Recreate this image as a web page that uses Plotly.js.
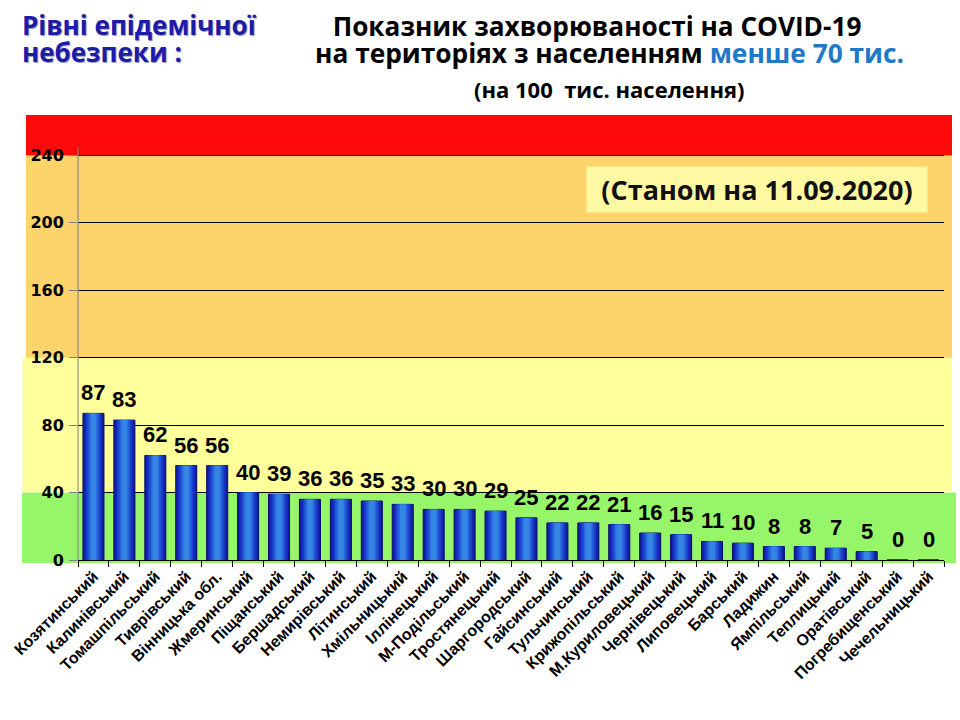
<!DOCTYPE html>
<html>
<head>
<meta charset="utf-8">
<script src="https://cdn.plot.ly/plotly-3.0.1.min.js"></script>
<style>html,body{margin:0;padding:0;background:#fff;}#chart{width:960px;height:720px;}</style>
</head>
<body>
<div id="chart"></div>
<script>
// ---- data ----
const districts = ["Козятинський","Калинівський","Томашпільський","Тиврівський","Вінницька обл.","Жмеринський","Піщанський","Бершадський","Немирівський","Літинський","Хмільницький","Іллінецький","М-Подільський","Тростянецький","Шаргородський","Гайсинський","Тульчинський","Крижопільський","М.Куриловецький","Чернівецький","Липовецький","Барський","Ладижин","Ямпільський","Теплицький","Оратівський","Погребищенський","Чечельницький"];
const incidence = [87,83,62,56,56,40,39,36,36,35,33,30,30,29,25,22,22,21,16,15,11,10,8,8,7,5,0,0];
const yTicks = [0,40,80,120,160,200,240];
const levelBounds = [0,40,120,240];      // epidemic danger level thresholds
const levelColors = ["#97f56a","#ffff9c","#fdd36c","#ff0a0a"];
const yMax = 264;

// ---- bar layers (simulated gradient) ----
const layerWidths = [0.68,0.58,0.48,0.38,0.28,0.18];
const layerColors = ["#0f1c9e","#1428b8","#1a3cc9","#2152d6","#2a6ade","#3585e4"];
const traces = layerWidths.map((w,i)=>({
  type:"bar", x:districts, y:incidence, width:w,
  marker:{color:layerColors[i], line:{color: i===0 ? "#0a0f66" : layerColors[i], width: i===0 ? 1 : 0}},
  hoverinfo:"skip", showlegend:false
}));

// ---- bands ----
const L = 78, W = 866, B = 560, H = 445;
const px = v => (v - L) / W;
const py = v => (B - v) / H;
const bandX = [[22,956],[22.5,952],[26,952],[26,952]];
const shapes = levelBounds.map((lv,i)=>({
  type:"rect", xref:"paper", yref:"paper", layer:"below",
  x0: px(bandX[i][0]), x1: px(bandX[i][1]),
  y0: i===0 ? -3/H : lv / yMax,
  y1: i < levelBounds.length-1 ? levelBounds[i+1] / yMax : 1,
  fillcolor: levelColors[i], line:{width:0}
}));
// y axis line
shapes.push({type:"line", xref:"paper", yref:"paper", layer:"above",
  x0:0, x1:0, y0:0, y1:py(147), line:{color:"#808080", width:1}});

// ---- value labels ----
const annotations = districts.map((d,i)=>({
  x:d, y:incidence[i], xref:"x", yref:"y", text:String(incidence[i]),
  showarrow:false, yanchor:"bottom", yshift:6,
  font:{family:"Liberation Sans, Arial, sans-serif", size:22, color:"#000", weight:"bold"}
}));
const TF = "Open Sans, Noto Sans, sans-serif";
annotations.push({
  xref:"paper", yref:"paper", x:px(757), y:py(189.5), xanchor:"center", yanchor:"middle",
  text:"<b>(Станом на 11.09.2020)</b>", showarrow:false, bgcolor:"#fdf8a2",
  width:336, height:41, borderpad:2,
  font:{family:TF, size:27, color:"#111"}
});
const leftLines = ["Рівні епідемічної","небезпеки :"];
const leftCenters = [25, 52];
leftLines.forEach((t,i)=>annotations.push({
  xref:"paper", yref:"paper", x:px(20), y:py(leftCenters[i]), xanchor:"left", yanchor:"middle",
  text:"<b>"+t+"</b>", showarrow:false,
  font:{family:TF, size:26, color:"#1c1ca6", shadow:"1px 1px 1px #9a9ab0"}
}));
annotations.push({
  xref:"paper", yref:"paper", x:px(609), y:py(53), xanchor:"center", yanchor:"middle",
  text:"<b>на територіях з населенням <span style='color:#1f78c8'>менше 70 тис.</span></b>", showarrow:false,
  font:{family:TF, size:26.3, color:"#000"}
});
annotations.push({
  xref:"paper", yref:"paper", x:px(609), y:py(89), xanchor:"center", yanchor:"middle",
  text:"<b>(на 100  тис. населення)</b>", showarrow:false,
  font:{family:TF, size:22, color:"#000"}
});

const layout = {
  width:960, height:720,
  margin:{l:L, r:960-L-W, t:B-H, b:720-B, pad:0},
  paper_bgcolor:"#ffffff", plot_bgcolor:"rgba(0,0,0,0)",
  barmode:"overlay", showlegend:false,
  title:{
    text:"<b>Показник захворюваності на COVID-19</b>",
    x:597/960, xanchor:"center", xref:"container", y:1-27/720, yanchor:"middle", yref:"container",
    font:{family:TF, size:26.2, color:"#000"}
  },
  xaxis:{
    type:"category", range:[-0.5, districts.length-0.5], automargin:false,
    tickangle:-45, ticks:"outside", tickson:"boundaries", ticklen:6, tickcolor:"#000", tickwidth:1,
    showline:true, linecolor:"#000", linewidth:1, showgrid:false, zeroline:false,
    tickfont:{family:"Liberation Sans, Arial, sans-serif", size:16, color:"#000", weight:"bold"}
  },
  yaxis:{
    range:[0,yMax], tickvals:yTicks, ticktext:yTicks.map(String), automargin:false,
    ticks:"outside", ticklen:8, tickcolor:"#808080", tickwidth:1, ticklabelstandoff:2,
    showline:false, showgrid:true, gridcolor:"#000", gridwidth:1, zeroline:false,
    tickfont:{family:"DejaVu Sans, sans-serif", size:16, color:"#000", weight:"bold"}
  },
  shapes:shapes, annotations:annotations
};
Plotly.newPlot("chart", traces, layout, {staticPlot:true, displayModeBar:false});
</script>
</body>
</html>
